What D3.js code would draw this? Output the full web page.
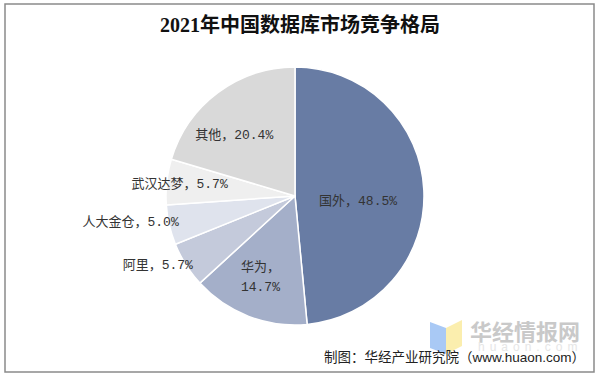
<!DOCTYPE html>
<html>
<head>
<meta charset="utf-8">
<script src="https://cdn.jsdelivr.net/npm/d3@7"></script>
<style>
  body { margin: 0; background: #fff; }
  svg { display: block; }
</style>
</head>
<body>
<div id="chart"></div>
<script>
// data
var categories = ["国外", "华为", "阿里", "人大金仓", "武汉达梦", "其他"];
var shares = [48.5, 14.7, 5.7, 5.0, 5.7, 20.4];
var colors = ["#687ca4", "#a4afc9", "#c4cadb", "#dfe3ed", "#efefef", "#d9d9d9"];
var titleText = "2021年中国数据库市场竞争格局";
var sourceText = "制图：华经产业研究院（www.huaon.com）";

// label placement: fraction of radius, angle nudge (deg) from slice middle, wrap
var labelRadius = [0.49, 0.67, 1.19, 1.29, 0.9, 0.67];
var labelNudge = [7, 2.5, 5.6, 4, 0, -8];
var labelWrap = [false, true, false, false, false, false];

var width = 600, height = 377;
var cx = 295, cy = 196, r = 129;

var svg = d3.select("#chart").append("svg")
    .attr("width", width)
    .attr("height", height);

// frame
svg.append("rect")
    .attr("x", 5).attr("y", 4)
    .attr("width", 589).attr("height", 368)
    .attr("fill", "#fff")
    .attr("stroke", "#8a8a8a")
    .attr("stroke-width", 1.5);

svg.append("text")
    .attr("x", 300).attr("y", 32)
    .attr("text-anchor", "middle")
    .attr("font-family", "'Liberation Serif', 'Noto Sans CJK SC', serif")
    .attr("font-weight", "bold")
    .attr("font-size", 20)
    .attr("fill", "#111")
    .text(titleText);

var pie = d3.pie().sort(null).value(function(d) { return d; });
var arcs = pie(shares);

var arc = d3.arc().innerRadius(0).outerRadius(r);

var g = svg.append("g").attr("transform", "translate(" + cx + "," + cy + ")");

g.selectAll("path.slice")
    .data(arcs)
  .enter().append("path")
    .attr("class", "slice")
    .attr("d", arc)
    .attr("fill", function(d, i) { return colors[i]; })
    .attr("stroke", "#fff")
    .attr("stroke-width", 1.5);

var labels = g.selectAll("text.lbl")
    .data(arcs)
  .enter().append("text")
    .attr("class", "lbl")
    .attr("transform", function(d, i) {
      var lr = r * labelRadius[i];
      var a = (d.startAngle + d.endAngle) / 2 + labelNudge[i] * Math.PI / 180;
      return "translate(" + (lr * Math.sin(a)) + "," + (-lr * Math.cos(a)) + ")";
    })
    .attr("text-anchor", "middle")
    .attr("font-family", "'Liberation Mono', 'Noto Sans CJK SC', monospace")
    .attr("font-size", 13)
    .attr("fill", "#333");

labels.each(function(d, i) {
  var t = d3.select(this);
  var pct = shares[i].toFixed(1) + "%";
  if (labelWrap[i]) {
    t.append("tspan").attr("x", 0).attr("dy", "-0.35em").text(categories[i] + "，");
    t.append("tspan").attr("x", 0).attr("dy", "1.6em").text(pct);
  } else {
    t.append("tspan").attr("x", 0).attr("dy", "0.35em").text(categories[i] + "，" + pct);
  }
});

// watermark logo
var logo = svg.append("g").attr("transform", "translate(430,318)");
logo.append("path")
    .attr("d", "M0,4 L16,10 L16,36 L0,30 Z")
    .attr("fill", "#a9c9f5");
logo.append("path")
    .attr("d", "M16,10 L32,2 L32,28 L16,36 Z")
    .attr("fill", "#fbeeae");
svg.append("text")
    .attr("x", 470).attr("y", 340)
    .attr("font-family", "'Noto Sans CJK SC', sans-serif")
    .attr("font-weight", "bold")
    .attr("font-size", 22)
    .attr("fill", "#c9c9c9")
    .text("华经情报网");
svg.append("text")
    .attr("x", 478).attr("y", 351)
    .attr("font-family", "'Liberation Sans', sans-serif")
    .attr("font-size", 12)
    .attr("letter-spacing", 5)
    .attr("fill", "#e6e6e6")
    .text("huaon.com");

svg.append("text")
    .attr("x", 585).attr("y", 362)
    .attr("text-anchor", "end")
    .attr("font-family", "'Liberation Sans', 'Noto Sans CJK SC', sans-serif")
    .attr("font-size", 13.5)
    .attr("fill", "#222")
    .text(sourceText);
</script>
</body>
</html>
